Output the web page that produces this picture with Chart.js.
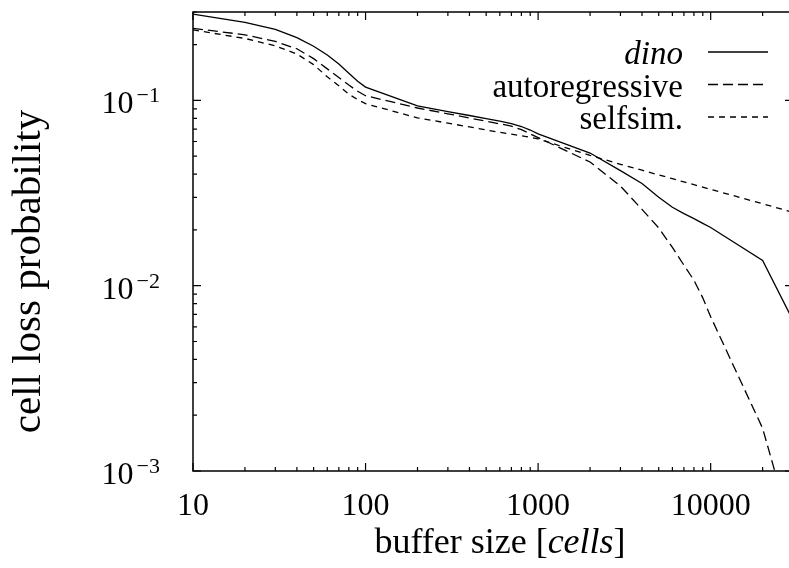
<!DOCTYPE html>
<html>
<head>
<meta charset="utf-8">
<script src="https://cdn.jsdelivr.net/npm/chart.js@4.4.1/dist/chart.umd.min.js"></script>
<style>
  html, body { margin: 0; padding: 0; background: #fff; overflow: hidden; }
  #quadro { width: 794px; height: 568px; }
</style>
</head>
<body>
<div id="quadro"><canvas id="grafico"></canvas></div>
<script>
// buffer size [cells] -> cell loss probability
const bufferSizes = [10, 20, 30, 40, 50, 60, 70, 80, 90, 100,
  200, 300, 400, 500, 600, 700, 800, 900, 1000,
  2000, 3000, 4000, 5000, 6000, 7000, 8000, 9000, 10000,
  20000, 30000];

const dino = [0.292, 0.264, 0.242, 0.218, 0.196, 0.176, 0.157, 0.140, 0.127, 0.118,
  0.0934, 0.0871, 0.0829, 0.0797, 0.0773, 0.0750, 0.0723, 0.0692, 0.0660,
  0.0520, 0.0418, 0.0356, 0.0300, 0.0265, 0.0245, 0.0230, 0.0217, 0.0206,
  0.0137, 0.0065];

const autoregressive = [0.245, 0.226, 0.208, 0.190, 0.168, 0.148, 0.133, 0.121, 0.112, 0.106,
  0.091, 0.0847, 0.0804, 0.0772, 0.0747, 0.0727, 0.0695, 0.0660, 0.0630,
  0.0465, 0.0345, 0.0258, 0.0205, 0.0161, 0.0129, 0.0107, 0.0086, 0.0068,
  0.0017, 0.00045];

const selfsim = [0.240, 0.216, 0.197, 0.178, 0.156, 0.134, 0.120, 0.108, 0.101, 0.096,
  0.0805, 0.0754, 0.0719, 0.0693, 0.0672, 0.0657, 0.0645, 0.0632, 0.0620,
  0.0505, 0.0452, 0.0420, 0.0396, 0.0378, 0.0363, 0.0351, 0.0340, 0.0331,
  0.0277, 0.0249];

const xTicks = [10, 100, 1000, 10000];
const xTickLabels = ["10", "100", "1000", "10000"];
const yTicks = [0.001, 0.01, 0.1];
const yTickExponents = ["\u22123", "\u22122", "\u22121"];

const FONTE = "'Liberation Serif', 'DejaVu Serif', serif";

function pontos(valores) {
  return bufferSizes.map((x, i) => ({ x, y: valores[i] }));
}

// moldura, marcas para dentro, rótulos, títulos e legenda
const eixos = {
  id: "eixos",
  afterDraw(chart) {
    const { ctx, chartArea: area, scales } = chart;
    const sx = scales.x;
    const sy = scales.y;
    ctx.save();
    ctx.strokeStyle = "#000";
    ctx.fillStyle = "#000";

    ctx.lineWidth = 1.5;
    ctx.strokeRect(area.left, area.top, area.right - area.left, area.bottom - area.top);

    ctx.lineWidth = 1.2;
    ctx.beginPath();
    for (let e = 1; e <= 4; e++) {
      for (let m = 1; m <= 9; m++) {
        const v = m * Math.pow(10, e);
        if (v > sx.max * 1.0001) continue;
        const px = sx.getPixelForValue(v);
        const len = m === 1 ? 8 : 4;
        ctx.moveTo(px, area.bottom); ctx.lineTo(px, area.bottom - len);
        ctx.moveTo(px, area.top); ctx.lineTo(px, area.top + len);
      }
    }
    for (let e = -3; e <= -1; e++) {
      for (let m = 1; m <= 9; m++) {
        const v = m * Math.pow(10, e);
        if (v > sy.max * 1.0001) continue;
        const py = sy.getPixelForValue(v);
        const len = m === 1 ? 8 : 4;
        ctx.moveTo(area.left, py); ctx.lineTo(area.left + len, py);
        ctx.moveTo(area.right, py); ctx.lineTo(area.right - len, py);
      }
    }
    ctx.stroke();

    // rótulos do eixo x
    ctx.font = "32px " + FONTE;
    ctx.textAlign = "center";
    ctx.textBaseline = "middle";
    xTicks.forEach((v, i) => {
      ctx.fillText(xTickLabels[i], sx.getPixelForValue(v), area.bottom + 36);
    });

    // rótulos do eixo y: 10 com expoente
    ctx.textBaseline = "alphabetic";
    ctx.textAlign = "right";
    yTicks.forEach((v, i) => {
      const py = sy.getPixelForValue(v);
      ctx.font = "22px " + FONTE;
      const larguraExp = ctx.measureText(yTickExponents[i]).width;
      ctx.fillText(yTickExponents[i], area.left - 33, py + 2);
      ctx.font = "32px " + FONTE;
      ctx.fillText("10", area.left - 36 - larguraExp, py + 13);
    });

    // título do eixo x, com "cells" em itálico
    const partes = [["buffer size [", ""], ["cells", "italic "], ["]", ""]];
    let total = 0;
    partes.forEach(([t, estilo]) => {
      ctx.font = estilo + "36px " + FONTE;
      total += ctx.measureText(t).width;
    });
    let cx = (area.left + area.right) / 2 + 7 - total / 2;
    ctx.textAlign = "left";
    partes.forEach(([t, estilo]) => {
      ctx.font = estilo + "36px " + FONTE;
      ctx.fillText(t, cx, area.bottom + 82);
      cx += ctx.measureText(t).width;
    });

    // título do eixo y
    ctx.save();
    ctx.translate(40, (area.top + area.bottom) / 2 + 30);
    ctx.rotate(-Math.PI / 2);
    ctx.textAlign = "center";
    ctx.font = "41px " + FONTE;
    ctx.fillText("cell loss probability", 0, 0);
    ctx.restore();

    // legenda: texto à esquerda, amostra de linha à direita
    chart.data.datasets.forEach((ds, i) => {
      const y = area.top + 40 + i * 32.5;
      ctx.font = (ds.italico ? "italic " : "") + "33px " + FONTE;
      ctx.textAlign = "right";
      ctx.fillText(ds.label, area.right - 110, y + 12);
      ctx.beginPath();
      ctx.lineWidth = ds.borderWidth;
      ctx.setLineDash(ds.borderDash || []);
      ctx.moveTo(area.right - 85, y);
      ctx.lineTo(area.right - 25, y);
      ctx.stroke();
      ctx.setLineDash([]);
    });

    ctx.restore();
  },
};

new Chart(document.getElementById("grafico"), {
  type: "line",
  data: {
    datasets: [
      { label: "dino", italico: true, data: pontos(dino), borderColor: "#000", borderWidth: 1.3, borderDash: [] },
      { label: "autoregressive", data: pontos(autoregressive), borderColor: "#000", borderWidth: 1.3, borderDash: [10, 5] },
      { label: "selfsim.", data: pontos(selfsim), borderColor: "#000", borderWidth: 1.3, borderDash: [6, 5] },
    ],
  },
  options: {
    responsive: true,
    maintainAspectRatio: false,
    animation: false,
    layout: { padding: { top: 12, right: 1, left: 0, bottom: 0 } },
    elements: { point: { radius: 0 }, line: { tension: 0, fill: false } },
    plugins: { legend: { display: false }, tooltip: { enabled: false } },
    scales: {
      x: {
        type: "logarithmic", min: 10, max: 30000,
        grid: { display: false }, border: { display: false }, ticks: { display: false },
        afterFit: (s) => { s.height = 97; },
      },
      y: {
        type: "logarithmic", min: 0.001, max: 0.3,
        grid: { display: false }, border: { display: false }, ticks: { display: false },
        afterFit: (s) => { s.width = 193; },
      },
    },
  },
  plugins: [eixos],
});
</script>
</body>
</html>
